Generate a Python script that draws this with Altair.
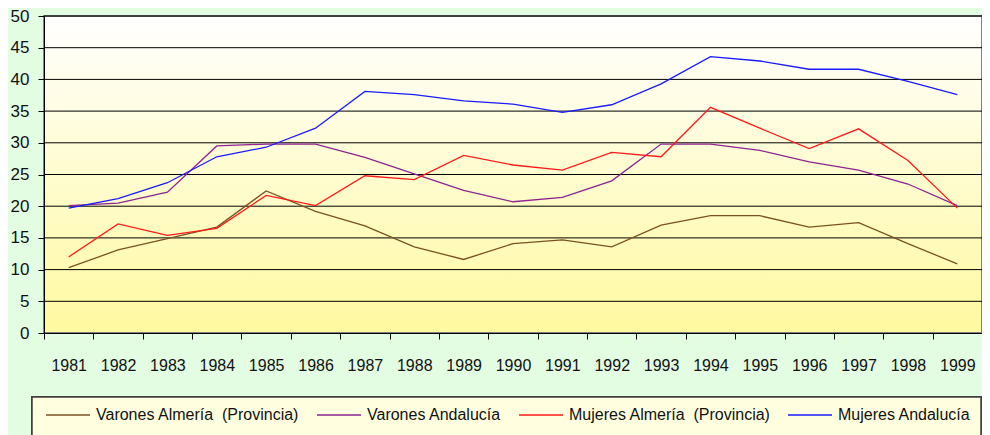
import altair as alt
import pandas as pd

years = [str(y) for y in range(1981, 2000)]

varones_almeria = [10.3, 13.1, 14.9, 16.7, 22.4, 19.2, 16.9, 13.6, 11.6, 14.1, 14.7, 13.6, 17.0, 18.5, 18.5, 16.7, 17.4, 14.1, 10.9]
varones_andalucia = [20.1, 20.5, 22.2, 29.5, 29.8, 29.8, 27.7, 25.1, 22.5, 20.7, 21.4, 24.0, 29.8, 29.8, 28.8, 27.0, 25.7, 23.5, 20.1]
mujeres_almeria = [12.0, 17.2, 15.4, 16.5, 21.7, 20.1, 24.8, 24.2, 28.0, 26.5, 25.7, 28.5, 27.8, 35.6, 32.3, 29.1, 32.2, 27.2, 19.7]
mujeres_andalucia = [19.7, 21.2, 23.7, 27.8, 29.3, 32.3, 38.1, 37.6, 36.6, 36.1, 34.8, 36.0, 39.3, 43.6, 42.9, 41.6, 41.6, 39.7, 37.6]

series_names = [
    "Varones Almería\u00a0 (Provincia)",
    "Varones Andalucía",
    "Mujeres Almería\u00a0 (Provincia)",
    "Mujeres Andalucía",
]
series_values = [varones_almeria, varones_andalucia, mujeres_almeria, mujeres_andalucia]
series_colors = ["#7a5222", "#8e2391", "#ff1a1a", "#1a1aff"]

y_ticks = list(range(0, 55, 5))
grid_values = list(range(5, 55, 5))

rows = []
for name, vals in zip(series_names, series_values):
    for yr, v in zip(years, vals):
        rows.append({"year": yr, "value": v, "series": name})
df = pd.DataFrame(rows)
grid_df = pd.DataFrame({"g": grid_values})

W, H = 938, 317
FONT = "Liberation Sans, Arial, sans-serif"

xscale = alt.Scale(type="band", domain=years, paddingInner=0, paddingOuter=0)
yscale = alt.Scale(domain=[0, 50], nice=False)

y_axis = alt.Axis(title=None, values=y_ticks, grid=False,
                  labelFontSize=17, labelFont=FONT, labelColor="#111111",
                  tickSize=6, tickColor="#000000", domainColor="#000000",
                  labelPadding=9, zindex=1)

bg = alt.Chart(grid_df).mark_rect(
    color=alt.Gradient(
        gradient="linear",
        stops=[alt.GradientStop(color="#ffffff", offset=0),
               alt.GradientStop(color="#fff9a0", offset=1)],
        x1=0, x2=0, y1=0, y2=1,
    ),
    stroke="#808080",
    strokeWidth=2,
).encode(x=alt.value(0), x2=alt.value(W), y=alt.value(0), y2=alt.value(H))

legend_box = alt.Chart(grid_df).mark_rect(
    fill="#ffffe0", stroke="#404040", strokeWidth=1.5
).encode(x=alt.value(-12), x2=alt.value(937), y=alt.value(381), y2=alt.value(470))

grid = alt.Chart(grid_df).mark_rule(color="#000000", strokeWidth=1).encode(
    y=alt.Y("g:Q", scale=yscale, axis=y_axis),
    x=alt.value(0), x2=alt.value(W),
)

lines = alt.Chart(df).mark_line(strokeWidth=1.3).encode(
    x=alt.X("year:O", scale=xscale, bandPosition=0.5,
            axis=alt.Axis(title=None, tickBand="extent", labelAngle=0,
                          labelFontSize=16, labelFont=FONT, labelColor="#111111",
                          tickSize=6, tickColor="#000000", domainColor="#000000",
                          labelPadding=18, zindex=1)),
    y=alt.Y("value:Q", scale=yscale, axis=y_axis),
    color=alt.Color("series:N",
                    scale=alt.Scale(domain=series_names, range=series_colors),
                    legend=alt.Legend(title=None, orient="none", legendX=1, legendY=376,
                                      direction="horizontal", symbolType="stroke",
                                      symbolSize=1936, symbolStrokeWidth=1.3,
                                      labelFontSize=16, labelFont=FONT, labelColor="#111111",
                                      labelOffset=5, columnPadding=14, padding=0,
                                      labelLimit=400)),
    detail="series:N",
)

chart = alt.layer(bg, legend_box, grid, lines).properties(
    width=W, height=H,
    autosize=alt.AutoSizeParams(type="none"),
    padding={"left": 36, "top": 8, "right": 0, "bottom": 110},
    background="#e3fde3",
).configure_view(stroke=None)

chart.save("out.html", embed_options={"renderer": "svg", "actions": False})
